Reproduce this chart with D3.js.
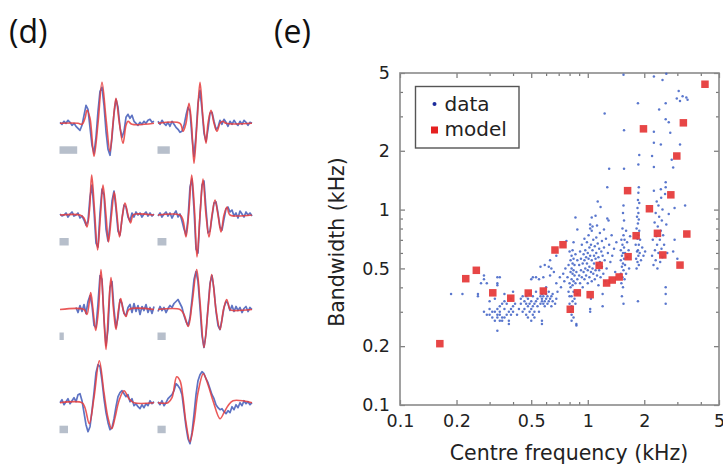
<!DOCTYPE html>
<html>
<head>
<meta charset="utf-8">
<script src="https://cdn.jsdelivr.net/npm/d3@7"></script>
<style>
    body { margin: 0; background: #fff; }
    svg { display: block; font-family: "DejaVu Sans", sans-serif; }
</style>
</head>
<body>
<div id="figure"></div>
<script>
// ---- panel (e): centre frequency / bandwidth, kHz ----
const xTicks = [0.1, 0.2, 0.5, 1, 2, 5];
const yTicks = [0.1, 0.2, 0.5, 1, 2, 5];

const modelPoints = [
    [4.21, 4.38], [3.23, 2.78], [1.98, 2.59], [2.98, 1.88], [1.63, 1.25], [2.77, 1.19],
    [2.13, 1.01], [2.35, 0.756], [3.37, 0.75], [1.81, 0.735], [0.669, 0.621], [0.738, 0.661],
    [1.64, 0.574], [2.51, 0.586], [1.15, 0.518], [3.10, 0.52], [0.224, 0.443], [0.255, 0.489],
    [1.26, 0.421], [1.35, 0.436], [1.47, 0.452], [0.312, 0.375], [0.389, 0.352], [0.482, 0.374],
    [0.580, 0.383], [0.880, 0.375], [1.03, 0.367], [0.807, 0.309], [0.163, 0.206]
];

const dataLow = [
    [0.187, 0.37], [0.215, 0.37], [0.26, 0.37], [0.26, 0.36], [0.27, 0.42], [0.28, 0.44], [0.28, 0.46],
    [0.29, 0.42], [0.28, 0.30], [0.29, 0.29], [0.30, 0.29], [0.30, 0.34], [0.30, 0.31], [0.31, 0.30],
    [0.31, 0.28], [0.32, 0.35], [0.32, 0.30], [0.32, 0.27], [0.33, 0.45], [0.33, 0.42], [0.33, 0.41],
    [0.33, 0.31], [0.33, 0.28], [0.33, 0.24], [0.33, 0.29], [0.34, 0.45], [0.34, 0.32], [0.34, 0.29],
    [0.34, 0.27], [0.34, 0.30], [0.35, 0.27], [0.35, 0.33], [0.35, 0.28], [0.36, 0.37], [0.36, 0.28],
    [0.36, 0.31], [0.36, 0.34], [0.37, 0.29], [0.37, 0.33], [0.38, 0.27], [0.38, 0.26], [0.38, 0.30],
    [0.39, 0.29], [0.39, 0.31], [0.39, 0.35], [0.40, 0.30], [0.40, 0.38], [0.40, 0.32], [0.41, 0.33],
    [0.42, 0.29], [0.43, 0.31], [0.44, 0.35], [0.44, 0.33], [0.45, 0.36], [0.45, 0.30]
];

const dataMid = [
    [0.46, 0.34], [0.46, 0.31], [0.47, 0.29], [0.47, 0.33], [0.47, 0.36], [0.48, 0.32], [0.48, 0.28],
    [0.48, 0.35], [0.49, 0.30], [0.49, 0.33], [0.49, 0.37], [0.50, 0.27], [0.50, 0.31], [0.50, 0.34],
    [0.50, 0.44], [0.51, 0.29], [0.51, 0.32], [0.51, 0.36], [0.51, 0.45], [0.52, 0.33], [0.52, 0.28],
    [0.52, 0.30], [0.53, 0.34], [0.53, 0.45], [0.53, 0.38], [0.54, 0.35], [0.54, 0.32], [0.55, 0.44],
    [0.55, 0.30], [0.56, 0.36], [0.56, 0.33], [0.56, 0.51], [0.57, 0.34], [0.57, 0.27], [0.57, 0.26],
    [0.57, 0.35], [0.57, 0.37], [0.58, 0.45], [0.58, 0.33], [0.58, 0.36], [0.59, 0.34], [0.59, 0.52],
    [0.59, 0.32], [0.60, 0.35], [0.60, 0.37], [0.60, 0.40], [0.61, 0.33], [0.61, 0.36], [0.62, 0.34],
    [0.62, 0.38], [0.62, 0.51], [0.63, 0.35], [0.63, 0.46], [0.63, 0.55], [0.64, 0.32], [0.64, 0.36],
    [0.64, 0.50], [0.65, 0.37], [0.65, 0.34], [0.66, 0.48], [0.67, 0.33], [0.68, 0.42], [0.68, 0.35],
    [0.68, 0.58], [0.69, 0.38]
];

const dataCol08 = [
    [0.78, 0.45], [0.79, 0.52], [0.79, 0.38], [0.80, 0.61], [0.80, 0.42], [0.80, 0.36], [0.80, 0.33],
    [0.81, 0.55], [0.81, 0.48], [0.81, 0.40], [0.81, 0.30], [0.82, 0.58], [0.82, 0.50], [0.82, 0.44],
    [0.82, 0.36], [0.82, 0.32], [0.82, 0.29], [0.82, 0.27], [0.83, 0.62], [0.83, 0.53], [0.83, 0.47],
    [0.83, 0.41], [0.83, 0.34], [0.83, 0.31], [0.84, 0.68], [0.84, 0.56], [0.84, 0.49], [0.84, 0.43],
    [0.84, 0.38], [0.84, 0.28], [0.85, 0.52], [0.85, 0.46], [0.85, 0.35], [0.86, 0.91], [0.86, 0.59],
    [0.86, 0.42], [0.86, 0.33], [0.87, 0.255], [0.87, 0.26], [0.87, 0.48], [0.88, 0.79], [0.88, 0.55],
    [0.88, 0.44], [0.88, 0.37], [0.77, 0.69], [0.76, 0.50], [0.75, 0.43], [0.74, 0.47], [0.72, 0.40],
    [0.71, 0.45]
];

const dataKHz1 = [
    [0.90, 0.52], [0.90, 0.46], [0.91, 0.61], [0.91, 0.42], [0.92, 0.56], [0.92, 0.49], [0.93, 0.66],
    [0.93, 0.45], [0.94, 0.53], [0.94, 0.40], [0.95, 0.59], [0.95, 0.48], [0.96, 0.71], [0.96, 0.55],
    [0.96, 0.44], [0.97, 0.62], [0.97, 0.50], [0.98, 0.57], [0.98, 0.46], [0.99, 0.68], [0.99, 0.53],
    [1.00, 0.60], [1.00, 0.49], [1.00, 0.42], [1.01, 0.74], [1.01, 0.56], [1.02, 0.64], [1.02, 0.51],
    [1.02, 0.45], [1.03, 0.84], [1.03, 0.80], [1.03, 0.58], [1.03, 0.31], [1.03, 0.30], [1.04, 0.66],
    [1.04, 0.48], [1.04, 0.35], [1.05, 0.91], [1.05, 0.78], [1.05, 0.55], [1.05, 0.43], [1.06, 0.82],
    [1.06, 0.62], [1.06, 0.50], [1.07, 0.70], [1.07, 0.47], [1.08, 0.58], [1.08, 0.53], [1.09, 0.65],
    [1.09, 0.44], [1.10, 0.93], [1.10, 0.56], [1.10, 0.49], [1.11, 0.72], [1.11, 0.60], [1.12, 0.83],
    [1.12, 0.52], [1.12, 0.46], [1.13, 1.10], [1.13, 0.67], [1.14, 0.57], [1.14, 0.41], [1.15, 0.63],
    [1.15, 0.49], [1.16, 0.76], [1.16, 0.54], [1.17, 1.03], [1.17, 0.45], [1.18, 0.61], [1.19, 0.69],
    [1.19, 0.51], [1.20, 0.37], [1.20, 0.32], [1.20, 0.58], [1.21, 0.47], [1.22, 0.79], [1.22, 0.64],
    [1.23, 0.55], [1.23, 3.1], [1.24, 0.43], [1.25, 0.71], [1.26, 0.50], [1.27, 0.90], [1.27, 1.30],
    [1.28, 0.60], [1.29, 0.88], [1.30, 1.62], [1.30, 0.66], [1.32, 0.54], [1.34, 0.74], [1.35, 0.58],
    [1.38, 0.63], [1.40, 0.48], [1.42, 0.68]
];

const dataCol15 = [
    [1.50, 0.62], [1.50, 0.55], [1.50, 0.47], [1.51, 0.70], [1.51, 0.42], [1.52, 0.58], [1.52, 0.51],
    [1.52, 0.36], [1.53, 0.80], [1.53, 0.66], [1.53, 0.45], [1.54, 0.96], [1.54, 0.60], [1.54, 0.53],
    [1.54, 0.40], [1.55, 1.05], [1.55, 0.74], [1.55, 0.49], [1.55, 0.33], [1.56, 0.88], [1.56, 0.64],
    [1.56, 0.56], [1.56, 1.62], [1.56, 2.55], [1.55, 4.9], [1.57, 0.70], [1.57, 0.44], [1.58, 0.52],
    [1.58, 0.60], [1.60, 0.78], [1.60, 0.47], [1.62, 0.57], [1.62, 0.68], [1.65, 0.62], [1.66, 0.50],
    [1.68, 0.73]
];

const dataCol19 = [
    [1.80, 0.66], [1.81, 0.56], [1.82, 0.80], [1.82, 0.50], [1.83, 0.92], [1.83, 0.61], [1.84, 1.02],
    [1.84, 0.71], [1.84, 0.54], [1.85, 1.12], [1.85, 0.85], [1.85, 0.62], [1.85, 0.34], [1.86, 1.22],
    [1.86, 0.96], [1.86, 0.74], [1.86, 0.58], [1.86, 1.70], [1.87, 1.30], [1.87, 0.89], [1.87, 0.66],
    [1.87, 0.52], [1.88, 1.08], [1.88, 0.78], [1.88, 1.90], [1.85, 3.5], [1.89, 0.60], [1.90, 0.70],
    [1.92, 0.55], [1.95, 0.64], [1.98, 0.58], [2.02, 0.61]
];

const dataHigh = [
    [2.20, 0.58], [2.20, 1.88], [2.22, 0.70], [2.24, 0.52], [2.25, 1.25], [2.25, 1.65], [2.25, 2.20],
    [2.25, 2.50], [2.25, 4.8], [2.27, 0.86], [2.28, 0.62], [2.30, 0.96], [2.30, 0.55], [2.32, 0.73],
    [2.33, 1.10], [2.34, 0.66], [2.35, 0.50], [2.36, 0.82], [2.38, 1.05], [2.38, 0.60], [2.40, 3.25],
    [2.40, 0.92], [2.42, 0.70], [2.43, 0.54], [2.45, 1.27], [2.45, 2.15], [2.45, 0.78], [2.46, 1.15],
    [2.47, 0.63], [2.48, 0.88], [2.50, 1.00], [2.50, 4.6], [2.50, 0.57], [2.52, 0.74], [2.55, 0.66],
    [2.58, 1.20], [2.60, 1.38], [2.60, 1.30], [2.60, 0.40], [2.60, 0.37], [2.60, 0.33], [2.60, 2.9],
    [2.60, 3.5], [2.62, 4.95], [2.62, 0.84], [2.65, 0.60], [2.70, 2.8], [2.70, 0.95], [2.75, 2.47],
    [2.80, 1.8], [2.85, 1.64], [2.85, 0.61], [2.90, 1.02], [2.90, 0.70], [2.98, 3.7], [3.05, 4.05],
    [3.1, 3.6], [3.1, 2.15], [3.2, 3.8], [3.3, 1.05], [3.35, 3.75], [3.4, 3.65], [3.0, 0.56]
];

// ---- panel (d): receptive fields, time (0-94) vs amplitude ----
// model = [time, amplitude] key points, data = amplitude every 2 time units (null = no recording)
const modelWaves = [
    [[0,0],[18,0],[22,-1],[25,5],[27,13],[30,5],[34,-33],[38,0],[42,41],[46,5],[50,-28],[53,0],[56,25],[59,3],[63,-20],[66,-2],[68,2],[72,-1],[94,0]],
    [[0,0],[22,0],[25,-8],[28,0],[31,20],[33.5,0],[36,-40],[39,0],[42,41],[45,5],[48,-20],[50,0],[53,13],[56,0],[59,-8],[62,0],[65,2],[68,0],[94,0]],
    [[0,0],[20,0],[24,-3],[27,-12],[29.5,5],[31.7,40],[34.5,5],[37.6,-35],[40.5,0],[43,30],[46,0],[48.5,-27],[51.5,0],[54.3,23],[57,0],[59.5,-22],[62.5,0],[65,12],[68,0],[70.5,-8],[73,0],[76,1],[94,0]],
    [[0,0],[22,0],[25,-5],[28,-22],[31,5],[33.7,40],[36.5,5],[39,-42],[42,0],[45,36],[48,0],[51,-22],[54,0],[57,15],[60,0],[63,-17],[66,0],[69,8],[72,0],[94,0]],
    [[0,0],[24,0],[27,-5],[30.7,17],[33,0],[35.7,-21],[38.5,0],[41,40],[43.5,0],[46,-40],[48.5,0],[51,32],[53.5,0],[56,-20],[58.5,0],[60.7,11],[63,0],[66,-7],[69,0],[94,0]],
    [[0,0],[22,0],[26,-5],[30.3,-17],[34,5],[38.7,40],[42,8],[46,-38],[50,0],[53.7,35],[58,0],[62,-20],[65.5,0],[68.7,10],[72,0],[75,-1],[94,0]],
    [[0,0],[22,0],[25,-5],[29.3,-21],[34,5],[39.3,42],[44,10],[48,-15],[51.7,-26],[55,-15],[59,2],[64,12],[69,4],[74,0],[94,0]],
    [[0,0],[10,0],[14,5],[18.7,26],[22,22],[25,5],[28,-20],[32,-39],[36,-20],[40,10],[45.3,29],[50,18],[55,2],[62,-16],[66,-10],[70,-3],[75,2],[94,0]]
];

const dataWaves = [
    [1,-1,2,0,3,1,-2,0,-3,-5,-7,-2,8,18,14,-4,-22,-30,-14,12,32,36,18,-8,-26,-32,-14,10,24,16,-4,-14,-8,6,9,5,8,2,0,-2,1,-1,2,0,3,4,1,2],
    [2,-1,3,0,-2,1,-3,2,-1,-4,-6,-9,-8,-2,8,16,12,-14,-33,-12,20,33,14,-10,-18,-6,10,11,2,-6,-4,3,-1,4,1,-3,2,-1,3,0,-2,2,-1,3,1,-2,1,0],
    [1,-1,0,2,-2,1,3,-1,0,2,-3,-1,-5,-10,-6,18,30,4,-28,-32,2,26,20,-14,-26,-10,14,24,6,-16,-20,-4,10,8,-2,-6,2,-2,3,0,2,-2,1,3,-1,2,-1,1],
    [-1,2,-2,1,3,-1,2,-3,1,4,-2,1,-6,-14,-20,-4,28,36,6,-34,-38,0,30,34,6,-18,-16,-2,12,13,2,-12,-15,-4,6,8,3,5,-1,2,-3,4,1,-2,3,0,2,-1],
    [null,null,null,null,null,null,null,null,2,-3,4,-2,5,-4,8,14,4,-16,-18,6,34,30,-10,-36,-20,22,28,0,-18,-8,10,6,-4,-6,2,5,-3,6,-2,4,-5,3,-1,5,-3,2,-4,3],
    [-2,3,-1,2,-3,1,4,2,6,8,10,6,2,-6,-12,-16,-8,10,30,38,28,2,-26,-38,-24,2,26,34,20,-2,-16,-20,-10,2,8,6,-1,4,-2,3,-1,2,-3,1,3,-2,2,0],
    [0,3,-2,1,4,-1,2,5,1,8,9,2,-10,-22,-29,-24,-8,10,30,38,36,22,4,-10,-20,-27,-25,-16,-4,6,10,12,9,6,8,1,4,-3,-1,-4,-6,-2,-5,-1,-3,2,-1,1],
    [1,-2,2,-3,0,4,6,8,12,19,17,14,8,-8,-24,-36,-41,-30,-12,8,22,28,31,29,24,20,14,8,4,-2,-5,-7,-6,-9,-11,-8,-10,-4,-7,-2,-5,0,-3,2,-1,1,-2,0]
];

// stimulus duration bars, same time units
const stimDurations = [17.7, 12.3, 9.2, 8.9, 4.3, 8.2, 8.5, 8.2];

const width = 723;
const height = 466;
const blue = "#3650b4";
const red = "#e63c3c";

const svg = d3.select("#figure").append("svg")
    .attr("width", width)
    .attr("height", height);

svg.append("rect").attr("width", width).attr("height", height).attr("fill", "#fff");

// ---------- panel (d) ----------
svg.append("text").attr("x", 9).attr("y", 43)
    .attr("font-family", "Open Sans, sans-serif").attr("font-size", 32).attr("fill", "#111").text("(d)");

const rowBase = [123.3, 215, 309.5, 402.7];
const colLeft = [60, 158];
const tScale = d3.scaleLinear().domain([0, 94]).range([0, 94]);
const aScale = d3.scaleLinear().domain([-50, 50]).range([50, -50]);

const modelLine = d3.line()
    .x(d => tScale(d[0]))
    .y(d => aScale(d[1]))
    .curve(d3.curveCatmullRom.alpha(0.5));

const dataLine = d3.line()
    .defined(d => d !== null)
    .x((d, i) => tScale(i * 2))
    .y(d => aScale(d));

modelWaves.forEach(function (wave, k) {
    const row = Math.floor(k / 2);
    const col = k % 2;
    const g = svg.append("g")
        .attr("transform", "translate(" + colLeft[col] + "," + rowBase[row] + ")");

    g.append("rect")
        .attr("x", tScale(0) - 0.5)
        .attr("y", 23)
        .attr("width", tScale(stimDurations[k]))
        .attr("height", 7.5)
        .attr("fill", "#b7bfcb");

    g.append("path")
        .attr("d", dataLine(dataWaves[k]))
        .attr("fill", "none")
        .attr("stroke", blue)
        .attr("stroke-width", 1.7)
        .attr("stroke-linejoin", "round")
        .attr("stroke-opacity", 0.8);

    g.append("path")
        .attr("d", modelLine(wave))
        .attr("fill", "none")
        .attr("stroke", red)
        .attr("stroke-width", 1.6)
        .attr("stroke-opacity", 0.85);
});

// ---------- panel (e) ----------
svg.append("text").attr("x", 274).attr("y", 43)
    .attr("font-family", "Open Sans, sans-serif").attr("font-size", 32).attr("fill", "#111").text("(e)");

const x = d3.scaleLog().domain([0.1, 5]).range([400, 719]);
const y = d3.scaleLog().domain([0.1, 5]).range([405, 73]);

const minorX = d3.range(2, 10).map(d => d / 10).concat(d3.range(2, 6))
    .filter(d => xTicks.indexOf(d) < 0);
const minorY = minorX;

function styleAxis(g) {
    g.select(".domain").remove();
    g.selectAll(".tick line").attr("stroke", "#777").attr("stroke-width", 1.2);
    g.selectAll(".tick text").attr("fill", "#222").attr("font-size", 17.5)
        .attr("font-family", "DejaVu Sans, sans-serif");
}

const fmt = d => String(d);

svg.append("g").attr("transform", "translate(0," + y.range()[0] + ")")
    .call(d3.axisBottom(x).tickValues(xTicks).tickFormat(fmt).tickSize(-5).tickPadding(10))
    .call(styleAxis);
svg.append("g").attr("transform", "translate(0," + y.range()[0] + ")")
    .call(d3.axisBottom(x).tickValues(minorX).tickFormat("").tickSize(-3))
    .call(styleAxis);
svg.append("g").attr("transform", "translate(0," + y.range()[1] + ")")
    .call(d3.axisTop(x).tickValues(xTicks).tickFormat("").tickSize(-5))
    .call(styleAxis);
svg.append("g").attr("transform", "translate(0," + y.range()[1] + ")")
    .call(d3.axisTop(x).tickValues(minorX).tickFormat("").tickSize(-3))
    .call(styleAxis);

svg.append("g").attr("transform", "translate(" + x.range()[0] + ",0)")
    .call(d3.axisLeft(y).tickValues(yTicks).tickFormat(fmt).tickSize(-5).tickPadding(10))
    .call(styleAxis);
svg.append("g").attr("transform", "translate(" + x.range()[0] + ",0)")
    .call(d3.axisLeft(y).tickValues(minorY).tickFormat("").tickSize(-3))
    .call(styleAxis);
svg.append("g").attr("transform", "translate(" + x.range()[1] + ",0)")
    .call(d3.axisRight(y).tickValues(yTicks).tickFormat("").tickSize(-5))
    .call(styleAxis);
svg.append("g").attr("transform", "translate(" + x.range()[1] + ",0)")
    .call(d3.axisRight(y).tickValues(minorY).tickFormat("").tickSize(-3))
    .call(styleAxis);

svg.append("rect")
    .attr("x", x.range()[0])
    .attr("y", y.range()[1])
    .attr("width", x.range()[1] - x.range()[0])
    .attr("height", y.range()[0] - y.range()[1])
    .attr("fill", "none")
    .attr("stroke", "#8a8a8a")
    .attr("stroke-width", 1.6);

const blueData = [].concat(dataLow, dataMid, dataCol08, dataKHz1, dataCol15, dataCol19, dataHigh);

svg.append("g").selectAll("circle")
    .data(blueData)
    .enter().append("circle")
    .attr("cx", d => x(d[0]))
    .attr("cy", d => y(d[1]))
    .attr("r", 1.25)
    .attr("fill", "#3d5fc4")
    .attr("fill-opacity", 0.85);

svg.append("g").selectAll("rect")
    .data(modelPoints)
    .enter().append("rect")
    .attr("x", d => x(d[0]) - 3.75)
    .attr("y", d => y(d[1]) - 3.75)
    .attr("width", 7.5)
    .attr("height", 7.5)
    .attr("fill", red)
    .attr("fill-opacity", 0.95);

// legend
const legend = svg.append("g");
legend.append("rect")
    .attr("x", 415.5).attr("y", 86.5).attr("width", 103.5).attr("height", 61.5)
    .attr("fill", "#fff").attr("stroke", "#555").attr("stroke-width", 1.4);
legend.append("circle").attr("cx", 434.5).attr("cy", 104).attr("r", 2).attr("fill", "#1c2c9c");
legend.append("rect").attr("x", 431).attr("y", 126.5).attr("width", 7).attr("height", 7).attr("fill", "#e52020");
legend.append("text").attr("x", 444.5).attr("y", 110.5).attr("font-size", 20).attr("fill", "#222").text("data");
legend.append("text").attr("x", 444.5).attr("y", 136).attr("font-size", 20).attr("fill", "#222").text("model");

// axis titles
svg.append("text")
    .attr("x", 569).attr("y", 460)
    .attr("text-anchor", "middle")
    .attr("font-size", 20.5).attr("fill", "#222")
    .text("Centre frequency (kHz)");

svg.append("text")
    .attr("transform", "translate(344,242) rotate(-90)")
    .attr("text-anchor", "middle")
    .attr("font-size", 20.5).attr("fill", "#222")
    .text("Bandwidth (kHz)");
</script>
</body>
</html>
